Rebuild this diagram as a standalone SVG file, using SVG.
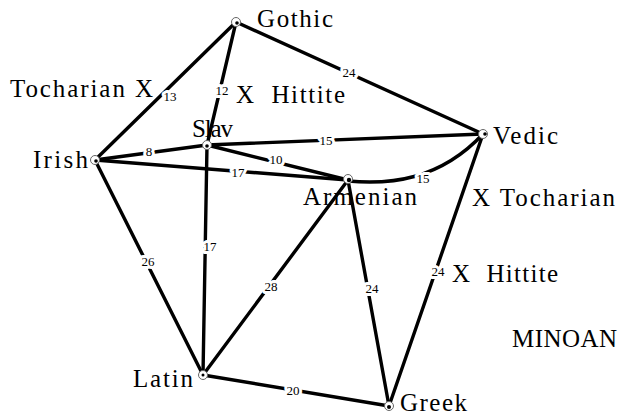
<svg xmlns="http://www.w3.org/2000/svg" width="622" height="416" viewBox="0 0 622 416">
<style>
.e{stroke:#000;stroke-width:3.4;fill:none;stroke-linecap:round}
.lbl{font-family:"Liberation Serif","Times New Roman",serif;font-size:25px;fill:#000}
.w{font-family:"Liberation Serif","Times New Roman",serif;font-size:13px;fill:#000;text-anchor:middle;stroke:#fff;stroke-width:6px;paint-order:stroke;stroke-linejoin:round}
.nc{fill:#fff;stroke:#666;stroke-width:1}
</style>
<rect width="622" height="416" fill="#fff"/>
<g id="edges">
<line class="e" x1="236" y1="22" x2="95" y2="160"/>
<line class="e" x1="236" y1="22" x2="207" y2="145"/>
<line class="e" x1="236" y1="22" x2="483" y2="134"/>
<line class="e" x1="95" y1="160" x2="207" y2="145"/>
<line class="e" x1="95" y1="160" x2="348" y2="180"/>
<line class="e" x1="207" y1="145" x2="483" y2="134"/>
<line class="e" x1="207" y1="145" x2="348" y2="180"/>
<path class="e" d="M348,181 C390,185 440,180 483,134"/>
<line class="e" x1="95" y1="160" x2="203" y2="375"/>
<line class="e" x1="207" y1="145" x2="203" y2="375"/>
<line class="e" x1="348" y1="180" x2="203" y2="375"/>
<line class="e" x1="348" y1="180" x2="389" y2="406"/>
<line class="e" x1="483" y1="134" x2="389" y2="406"/>
<line class="e" x1="203" y1="375" x2="389" y2="406"/>
</g>
<g id="edge-labels">
<text class="w" x="170" y="101">13</text>
<text class="w" x="222" y="95">12</text>
<text class="w" x="349" y="77">24</text>
<text class="w" x="149" y="156">8</text>
<text class="w" x="326" y="145">15</text>
<text class="w" x="276" y="164">10</text>
<text class="w" x="238" y="177">17</text>
<text class="w" x="423" y="183">15</text>
<text class="w" x="148" y="266">26</text>
<text class="w" x="210" y="251">17</text>
<text class="w" x="271" y="291">28</text>
<text class="w" x="372" y="293">24</text>
<text class="w" x="438" y="276">24</text>
<text class="w" x="293" y="395">20</text>
</g>
<g id="gothic"><circle class="nc" cx="236" cy="22" r="4.5"/><circle cx="237" cy="23" r="1.8"/><text class="lbl" x="257" y="27" textLength="76">Gothic</text></g>
<g id="slav"><circle class="nc" cx="207" cy="145" r="4.5"/><circle cx="207" cy="146" r="1.8"/><text class="lbl" x="192" y="137" textLength="41">Slav</text></g>
<g id="irish"><circle class="nc" cx="95" cy="160" r="4.5"/><circle cx="96" cy="161" r="1.8"/><text class="lbl" x="33" y="168" textLength="55">Irish</text></g>
<g id="vedic"><circle class="nc" cx="483" cy="134" r="4.5"/><circle cx="485" cy="134" r="1.8"/><text class="lbl" x="493" y="144" textLength="65">Vedic</text></g>
<g id="armenian"><circle class="nc" cx="348" cy="179" r="4.5"/><circle cx="349" cy="180" r="2.2"/><text class="lbl" x="303" y="205" textLength="114">Armenian</text></g>
<g id="latin"><circle class="nc" cx="203" cy="375" r="4.5"/><circle cx="203" cy="375" r="1.5"/><text class="lbl" x="133" y="387" textLength="60">Latin</text></g>
<g id="greek"><circle class="nc" cx="389" cy="406" r="4.5"/><circle cx="389" cy="407" r="2"/><text class="lbl" x="400" y="411" textLength="67">Greek</text></g>
<g id="annotations">
<text class="lbl" x="10" y="97" textLength="143">Tocharian X</text>
<text class="lbl" x="236" y="103" textLength="109" xml:space="preserve">X  Hittite</text>
<text class="lbl" x="472" y="206" textLength="143">X Tocharian</text>
<text class="lbl" x="452" y="282" textLength="106" xml:space="preserve">X  Hittite</text>
<text class="lbl" x="512" y="347" textLength="105">MINOAN</text>
</g>
</svg>
